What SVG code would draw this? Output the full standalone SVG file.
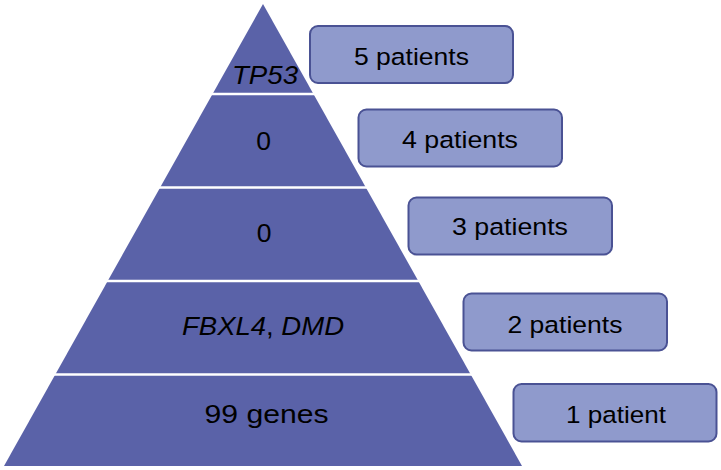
<svg xmlns="http://www.w3.org/2000/svg" width="721" height="470" viewBox="0 0 721 470">
<style>
.pyr{fill:#5A62A8}
.sep{stroke:#FFFFFF;stroke-width:2.5}
.box{fill:#8F9ACC;stroke:#4A5294;stroke-width:2}
.pt{font-family:"Liberation Sans",Arial,sans-serif;font-size:26.5px;fill:#000;text-anchor:middle}
.bt{font-family:"Liberation Sans",Arial,sans-serif;font-size:24.5px;fill:#000;text-anchor:middle}
.it{font-style:italic}
</style>
<g id="pyramid">
<polygon class="pyr" points="263,4 522,466 4,466"/>
<line class="sep" x1="0" y1="94" x2="540" y2="94"/>
<line class="sep" x1="0" y1="187.5" x2="540" y2="187.5"/>
<line class="sep" x1="0" y1="281" x2="540" y2="281"/>
<line class="sep" x1="0" y1="374.5" x2="540" y2="374.5"/>
</g>
<g id="level5"><text class="pt it" x="265" y="84" textLength="66" lengthAdjust="spacingAndGlyphs">TP53</text></g>
<g id="level4"><text class="pt" x="263.5" y="150">0</text></g>
<g id="level3"><text class="pt" x="264" y="242">0</text></g>
<g id="level2"><text class="pt" x="263" y="335" textLength="162" lengthAdjust="spacingAndGlyphs"><tspan class="it">FBXL4</tspan>, <tspan class="it">DMD</tspan></text></g>
<g id="level1"><text class="pt" x="266.5" y="423" textLength="124" lengthAdjust="spacingAndGlyphs">99 genes</text></g>
<g id="box5"><rect class="box" x="310" y="26" width="203" height="57" rx="8"/><text class="bt" x="411.5" y="64.5" textLength="115" lengthAdjust="spacingAndGlyphs">5 patients</text></g>
<g id="box4"><rect class="box" x="358.5" y="109.5" width="203.5" height="57" rx="8"/><text class="bt" x="460" y="148" textLength="116" lengthAdjust="spacingAndGlyphs">4 patients</text></g>
<g id="box3"><rect class="box" x="408.5" y="197.5" width="203.5" height="57" rx="8"/><text class="bt" x="510" y="235" textLength="116" lengthAdjust="spacingAndGlyphs">3 patients</text></g>
<g id="box2"><rect class="box" x="463.5" y="293.5" width="203.5" height="57" rx="8"/><text class="bt" x="565" y="332.5" textLength="115" lengthAdjust="spacingAndGlyphs">2 patients</text></g>
<g id="box1"><rect class="box" x="513.5" y="384" width="203" height="57.5" rx="8"/><text class="bt" x="616" y="422.5" textLength="100" lengthAdjust="spacingAndGlyphs">1 patient</text></g>
<g id="connectors"></g>
</svg>
